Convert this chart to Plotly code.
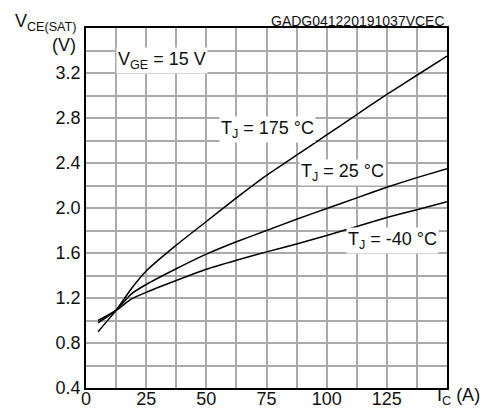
import plotly.graph_objects as go

ic = [5, 12.5, 18.75, 25, 37.5, 50, 62.5, 75, 87.5, 100, 112.5, 125, 137.5, 150]
v_175 = [0.90, 1.09, 1.28, 1.44, 1.67, 1.88, 2.09, 2.29, 2.47, 2.65, 2.83, 3.01, 3.18, 3.35]
v_25 = [0.98, 1.09, 1.235, 1.32, 1.46, 1.59, 1.70, 1.80, 1.90, 1.995, 2.09, 2.185, 2.27, 2.35]
v_m40 = [1.0, 1.09, 1.19, 1.25, 1.355, 1.455, 1.535, 1.61, 1.68, 1.755, 1.835, 1.915, 1.985, 2.055]

x_ticks = [i * 12.5 for i in range(13)]
x_text = ["0", "", "25", "", "50", "", "75", "", "100", "", "125", "", ""]
y_ticks = [round(0.4 + 0.2 * i, 1) for i in range(17)]
y_text = [f"{v:.1f}" if i % 2 == 0 and v < 3.5 else "" for i, v in enumerate(y_ticks)]

FONT = "Liberation Sans, Arial, sans-serif"
GRID = "#aaaaaa"

fig = go.Figure()
for ys in (v_175, v_25, v_m40):
    fig.add_trace(go.Scatter(x=ic, y=ys, mode="lines",
                             line=dict(color="black", width=1.5, shape="spline", smoothing=0.5),
                             showlegend=False, hoverinfo="skip"))

fig.update_layout(
    width=480, height=401,
    margin=dict(l=78, r=41, t=20, b=21),
    paper_bgcolor="white", plot_bgcolor="white",
    font=dict(family=FONT, color="#111111"),
)
fig.update_xaxes(range=[0, 150], tickmode="array", tickvals=x_ticks, ticktext=x_text,
                 showgrid=True, gridcolor=GRID, gridwidth=1.5, automargin=False,
                 showline=True, linecolor="black", linewidth=1.5, mirror=True,
                 ticks="", tickfont=dict(size=18, family=FONT), zeroline=False,
                 ticklabelstandoff=-6)
fig.update_yaxes(range=[0.4, 3.6], tickmode="array", tickvals=y_ticks, ticktext=y_text,
                 showgrid=True, gridcolor=GRID, gridwidth=1.5, automargin=False,
                 showline=True, linecolor="black", linewidth=1.5, mirror=True,
                 ticks="", tickfont=dict(size=18, family=FONT), zeroline=False)

ann = []
def lab(text, x, y, anchor="left"):
    ann.append(dict(text=text, x=x, y=y, xref="x", yref="y", xanchor=anchor, yanchor="middle",
                    showarrow=False, bgcolor="white", borderpad=1,
                    font=dict(size=18, family=FONT, color="#111111")))

lab("V<sub>GE</sub> = 15 V", 12.5, 3.31)
lab("T<sub>J</sub> = 175 °C", 55.3, 2.70)
lab("T<sub>J</sub> = 25 °C", 88.5, 2.315)
lab("T<sub>J</sub> = -40 °C", 108, 1.715)

ann.append(dict(text="GADG041220191037VCEC", x=(447 - 86) / 361, y=(388 - 20.5) / 360, xref="paper", yref="paper",
                xanchor="right", yanchor="middle", showarrow=False,
                font=dict(size=14, family=FONT, color="#111111")))
ann.append(dict(text="V<sub>CE(SAT)</sub>", x=(78 - 86) / 361, y=(388 - 22) / 360, xref="paper", yref="paper",
                xanchor="right", yanchor="middle", showarrow=False,
                font=dict(size=18, family=FONT, color="#111111")))
ann.append(dict(text="(V)", x=(78 - 86) / 361, y=(388 - 45) / 360, xref="paper", yref="paper",
                xanchor="right", yanchor="middle", showarrow=False,
                font=dict(size=18, family=FONT, color="#111111")))
ann.append(dict(text="I<sub>C</sub> (A)", x=(435 - 86) / 361, y=(388 - 397) / 360, xref="paper", yref="paper",
                xanchor="left", yanchor="middle", showarrow=False,
                font=dict(size=18, family=FONT, color="#111111")))
fig.update_layout(annotations=ann)

fig.write_html("out.html")
